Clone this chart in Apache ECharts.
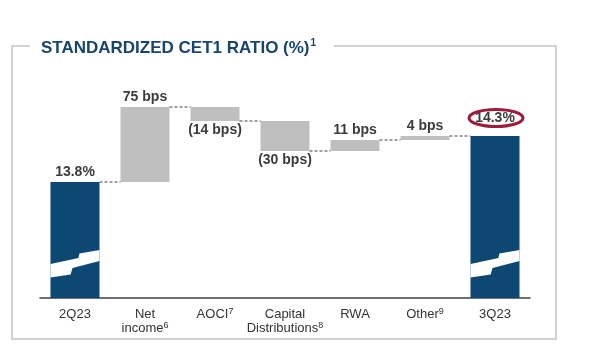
<!DOCTYPE html>
<html>
<head>
<meta charset="utf-8">
<script src="https://cdn.jsdelivr.net/npm/echarts@6/dist/echarts.min.js"></script>
<style>
  html, body { margin: 0; padding: 0; background: #fff; }
  #chart { width: 590px; height: 351px; }
</style>
</head>
<body>
<div id="chart"></div>
<script>
let categories = ['2Q23', 'Net\nincome', 'AOCI', 'Capital\nDistributions', 'RWA', 'Other', '3Q23'];
let footnotes = ['', '6', '7', '8', '', '9', ''];
let startRatio = 13.8;
let changeBps = [75, -14, -30, 11, 4];
let changeLabels = ['75 bps', '(14 bps)', '(30 bps)', '11 bps', '4 bps'];

let fontName = 'Liberation Sans, Arial, sans-serif';
let navy = '#0c4872';
let grey = '#bfbfbf';
let breakLevel = 13.0;

// running totals for the waterfall
let levels = [startRatio];
for (let i = 0; i < changeBps.length; i++) {
    levels.push(Math.round((levels[i] + changeBps[i] / 100) * 100) / 100);
}
let endRatio = levels[levels.length - 1];

let baseData = [0];
let barData = [{
    value: startRatio,
    itemStyle: { color: navy },
    label: { position: 'top', distance: 3, formatter: startRatio.toFixed(1) + '%' }
}];
for (let i = 0; i < changeBps.length; i++) {
    let up = changeBps[i] >= 0;
    baseData.push(up ? levels[i] : levels[i + 1]);
    barData.push({
        value: Math.abs(changeBps[i]) / 100,
        itemStyle: { color: grey },
        label: { position: up ? 'top' : 'bottom', distance: up ? 3 : 2, formatter: changeLabels[i] }
    });
}
baseData.push(0);
barData.push({
    value: endRatio,
    itemStyle: { color: navy },
    label: { position: 'top', distance: 11, formatter: endRatio.toFixed(1) + '%' }
});

let connectorData = levels.map(function (v, i) { return [i, v]; });
let breakData = [[0, breakLevel], [categories.length - 1, breakLevel]];

function renderConnector(params, api) {
    let i = api.value(0);
    let v = api.value(1);
    let half = api.size([1, 0])[0] * 0.35;
    let p1 = api.coord([i, v]);
    let p2 = api.coord([i + 1, v]);
    return {
        type: 'line',
        shape: { x1: p1[0] + half, y1: p1[1], x2: p2[0] - half, y2: p2[1] },
        style: { stroke: '#404040', lineWidth: 1, lineDash: [3, 2] }
    };
}

function renderBreak(params, api) {
    let p = api.coord([api.value(0), api.value(1)]);
    let w = api.size([1, 0])[0] * 0.7;
    let x0 = p[0] - w / 2;
    let y0 = p[1];
    let pts = [
        [0, 2], [0.57, -4], [0.59, -8.5], [1, -12],
        [1, -1], [0.45, 6], [0.41, 12.5], [0, 15.5]
    ].map(function (q) { return [x0 + q[0] * w, y0 + q[1]]; });
    return {
        type: 'polygon',
        shape: { points: pts },
        style: { fill: '#ffffff' }
    };
}

// red ellipse round the closing ratio
function renderHighlight(params, api) {
    let p = api.coord([api.value(0), api.value(1)]);
    let rx = 27, ry = 8.5;
    let cx = p[0] + 1, cy = p[1] - 18;
    return {
        type: 'path',
        shape: {
            pathData: 'M0,1 A1,1 0 1 0 2,1 A1,1 0 1 0 0,1 Z',
            layout: 'cover',
            x: cx - rx, y: cy - ry, width: rx * 2, height: ry * 2
        },
        style: { fill: 'none', stroke: '#9c1c3c', lineWidth: 3 }
    };
}

let chart = echarts.init(document.getElementById('chart'), null, { renderer: 'canvas' });

let option = {
    animation: false,
    backgroundColor: '#ffffff',
    textStyle: { fontFamily: fontName },
    title: {
        left: 41,
        top: 38,
        padding: 0,
        text: '{t|STANDARDIZED CET1 RATIO (%)}{s|1}',
        textStyle: {
            rich: {
                t: { fontSize: 17, fontWeight: 'bold', color: '#17456e', fontFamily: fontName, lineHeight: 20 },
                s: { fontSize: 10, fontWeight: 'bold', color: '#17456e', fontFamily: fontName, verticalAlign: 'top', lineHeight: 20, padding: [0, 0, 0, 1] }
            }
        }
    },
    graphic: [
        {
            type: 'polyline',
            silent: true,
            shape: { points: [[30, 46], [12, 46], [12, 339], [556, 339], [556, 46], [334, 46]] },
            style: { stroke: '#c4c4c4', lineWidth: 1.5, fill: 'none' }
        }
    ],
    grid: { left: 40, right: 60, top: 98, bottom: 53 },
    xAxis: {
        type: 'category',
        data: categories,
        boundaryGap: true,
        axisLine: { lineStyle: { color: '#404040', width: 1.5 } },
        axisTick: { show: false },
        axisLabel: {
            interval: 0,
            margin: 9,
            formatter: function (value, idx) {
                let lines = value.split('\n').map(function (s) { return '{a|' + s + '}'; });
                if (footnotes[idx]) lines[lines.length - 1] += '{s|' + footnotes[idx] + '}';
                return lines.join('\n');
            },
            rich: {
                a: { fontSize: 13, color: '#333333', fontFamily: fontName, lineHeight: 14 },
                s: { fontSize: 9, color: '#333333', fontFamily: fontName, verticalAlign: 'top', lineHeight: 14 }
            }
        }
    },
    yAxis: {
        type: 'value',
        min: 12.64,
        max: 14.64,
        show: false,
        splitLine: { show: false }
    },
    series: [
        {
            name: 'base',
            type: 'bar',
            stack: 'wf',
            barWidth: '70%',
            silent: true,
            itemStyle: { color: 'transparent' },
            data: baseData
        },
        {
            name: 'value',
            type: 'bar',
            stack: 'wf',
            barWidth: '70%',
            z: 2,
            label: {
                show: true,
                fontSize: 14,
                fontWeight: 'bold',
                color: '#3b3b3b',
                fontFamily: fontName
            },
            data: barData
        },
        {
            name: 'connectors',
            type: 'custom',
            silent: true,
            z: 3,
            renderItem: renderConnector,
            data: connectorData
        },
        {
            name: 'breaks',
            type: 'custom',
            silent: true,
            z: 4,
            renderItem: renderBreak,
            data: breakData
        },
        {
            name: 'highlight',
            type: 'custom',
            silent: true,
            z: 5,
            renderItem: renderHighlight,
            data: [[categories.length - 1, endRatio]]
        }
    ]
};

chart.setOption(option);
</script>
</body>
</html>
